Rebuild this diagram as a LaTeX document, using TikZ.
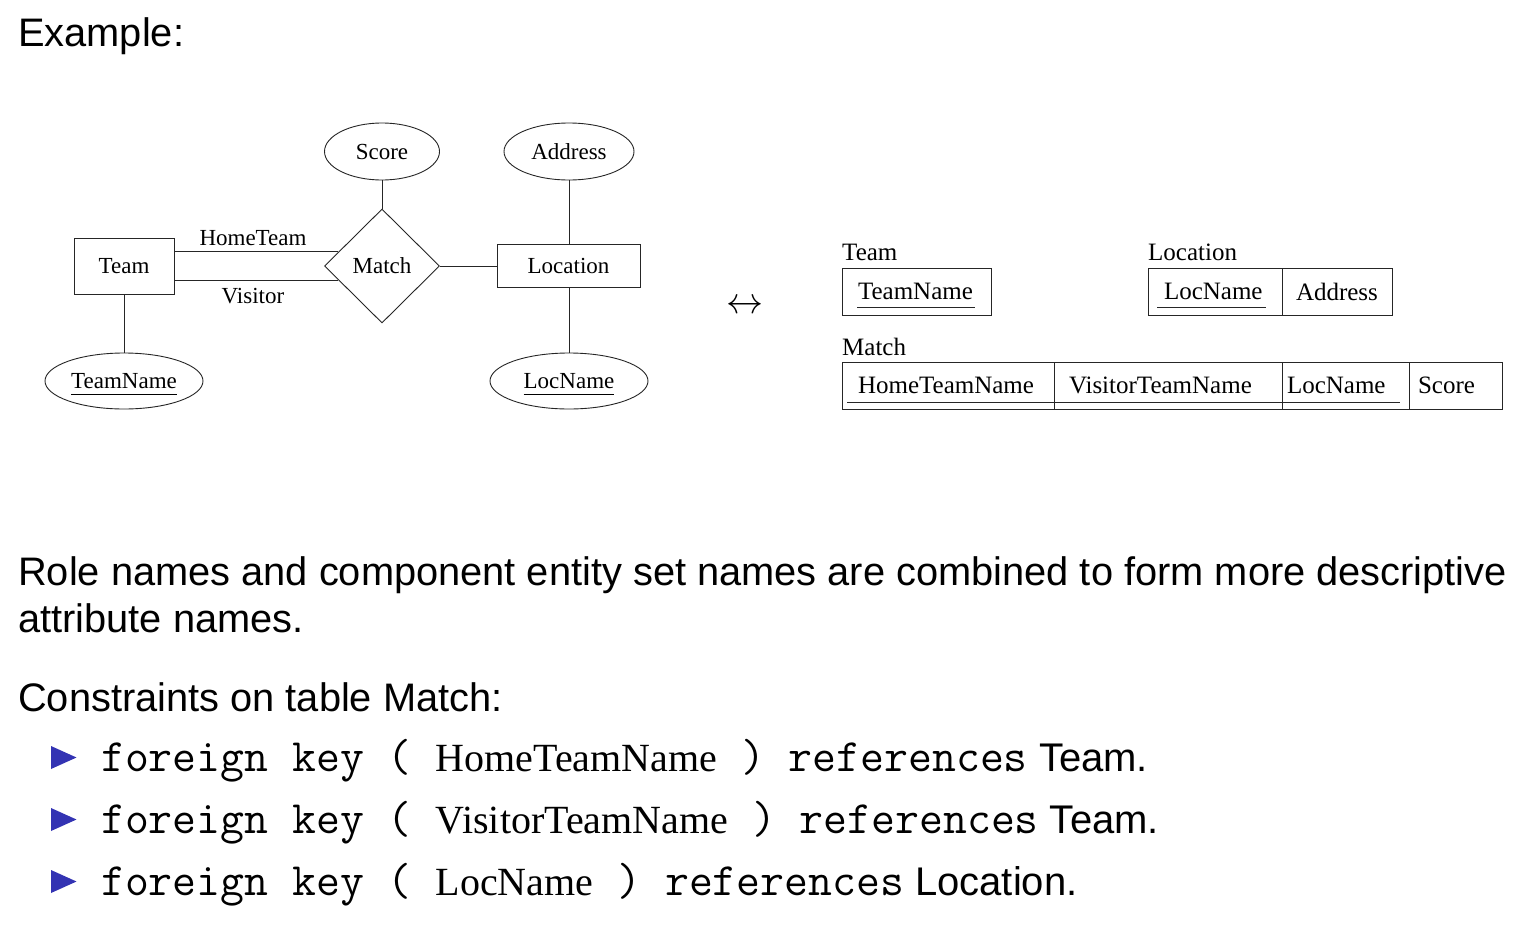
\documentclass[tikz,border=0pt]{standalone}
\usepackage{fontspec}
\setmainfont{Liberation Serif}
\newfontfamily\sansf{Liberation Sans}
\usetikzlibrary{shapes.geometric,calc}
\definecolor{bulletblue}{RGB}{51,51,179}
\newcommand\myul[1]{\setbox0\hbox{#1}\rlap{\smash{\rule[-6.5pt]{\wd0}{0.9pt}}}\box0}
\newcommand\mono{\ttfamily\fontsize{46.4}{50}\selectfont}
\newcommand\sernorm{\rmfamily\fontsize{40}{48}\selectfont}
\newcommand\sansnorm{\sansf\fontsize{40}{48}\selectfont}
\begin{document}
\begin{tikzpicture}[x=1pt,y=-1pt,
  er/.style={draw=black!85, line width=0.9pt, font=\fontsize{23}{27}\selectfont, inner sep=0pt},
  entity/.style={er, rectangle},
  attr/.style={er, ellipse},
  rel/.style={er, diamond},
  conn/.style={draw=black!85, line width=0.9pt},
  rolelbl/.style={font=\fontsize{23}{27}\selectfont, inner sep=0pt},
  tbllbl/.style={font=\fontsize{25}{30}\selectfont, inner sep=0pt, anchor=base west},
  cell/.style={draw=black!85, line width=0.9pt, anchor=north west, font=\fontsize{25}{30}\selectfont,
     minimum height=47pt, inner ysep=0pt, outer sep=0pt, align=left},
  bigtext/.style={font=\sansf\fontsize{39.8}{48}\selectfont, inner sep=0pt, anchor=base west},
  fkline/.style={inner sep=0pt, anchor=base west},
]
\useasboundingbox (0,0) rectangle (1528,932);
\fill[white] (0,0) rectangle (1528,932);

% title
\node[bigtext] (title) at (18,46) {Example:};

% ER diagram
\node[entity, minimum width=100pt, minimum height=56pt] (team) at (124,266) {Team};
\node[rel, minimum width=115pt, minimum height=114pt] (match) at (382,266) {Match};
\node[entity, minimum width=143pt, minimum height=43pt] (location) at (568.5,266) {Location};
\node[attr, minimum width=115pt, minimum height=57pt] (score) at (382,151.5) {Score};
\node[attr, minimum width=130pt, minimum height=57pt] (address) at (569,151.5) {Address};
\node[attr, minimum width=158pt, minimum height=56pt] (teamname) at (124,381) {\myul{TeamName}};
\node[attr, minimum width=158pt, minimum height=56pt] (locname) at (569,381) {\myul{LocName}};

\coordinate (hm) at ($(match.west)!0.2456!(match.north)$);
\coordinate (vm) at ($(match.west)!0.2456!(match.south)$);
\draw[conn] (team.east |- hm) -- (hm);
\draw[conn] (team.east |- vm) -- (vm);
\node[rolelbl] (homelbl) at (253,238) {HomeTeam};
\node[rolelbl] (visitlbl) at (253,296) {Visitor};
\draw[conn] (score.south) -- (match.north);
\draw[conn] (match.east) -- (location.west);
\draw[conn] (address.south) -- (address.south |- location.north);
\draw[conn] (locname.north |- location.south) -- (locname.north);
\draw[conn] (team.south) -- (teamname.north);

% arrow
\node[inner sep=0pt] (equiv) at (744.5,307) {\scalebox{3.7}{$\leftrightarrow$}};

% tables
\node[tbllbl] (tteam) at (842,260) {Team};
\node[cell, minimum width=149pt, text width=117pt, inner xsep=16pt] (tc1) at (842,268) {TeamName};
\draw[conn] ($(tc1.south west)+(15,-8)$) -- ($(tc1.south west)+(133,-8)$);

\node[tbllbl] (tloc) at (1148,260) {Location};
\node[cell, minimum width=134pt, text width=102pt, inner xsep=16pt] (lc1) at (1148,268) {LocName};
\node[cell, minimum width=110pt, text width=82pt, inner xsep=14pt] (lc2) at (lc1.north east) {Address};
\draw[conn] ($(lc1.south west)+(9,-8)$) -- ($(lc1.south west)+(118,-8)$);

\node[tbllbl] (tmatch) at (842,355) {Match};
\node[cell, minimum width=212pt, text width=180pt, inner xsep=16pt] (mc1) at (842,362) {HomeTeamName};
\node[cell, minimum width=228pt, text width=198pt, inner xsep=15pt] (mc2) at (mc1.north east) {VisitorTeamName};
\node[cell, minimum width=127pt, text width=117pt, inner xsep=5pt] (mc3) at (mc2.north east) {LocName};
\node[cell, minimum width=93pt, text width=75pt, inner xsep=9pt] (mc4) at (mc3.north east) {Score};
\draw[conn] ($(mc1.south west)+(5,-7)$) -- ($(mc3.south east)+(-9,-7)$);

% text
\node[bigtext] (role1) at (18,585) {Role names and component entity set names are combined to form more descriptive};
\node[bigtext] (role2) at (18,632) {attribute names.};
\node[bigtext] (cons) at (18,711) {Constraints on table Match:};

\foreach \i/\yy in {1/0,2/62,3/124}{
  \fill[bulletblue] (51,746+\yy) -- (76.5,757.5+\yy) -- (51,769+\yy) -- cycle;
}
\node[fkline] (fk1) at (101,771) {\mono foreign key ( \sernorm HomeTeamName\mono{} ) references\sansnorm{} Team.};
\node[fkline] (fk2) at (101,833) {\mono foreign key ( \sernorm VisitorTeamName\mono{} ) references\sansnorm{} Team.};
\node[fkline] (fk3) at (101,895) {\mono foreign key ( \sernorm LocName\mono{} ) references\sansnorm{} Location.};
\end{tikzpicture}
\end{document}
